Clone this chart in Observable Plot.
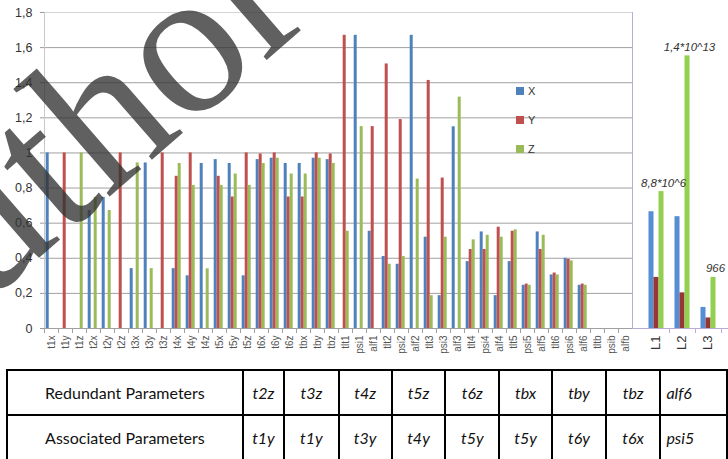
<!DOCTYPE html>
<html><head><meta charset="utf-8">
<script src="https://cdn.jsdelivr.net/npm/d3@7"></script>
<script src="https://cdn.jsdelivr.net/npm/@observablehq/plot@0.6"></script>
<style>
body{margin:0;background:#fff;}
#wrap{position:relative;width:728px;height:459px;overflow:hidden;font-family:"Liberation Sans",Arial,sans-serif;background:#fff;}
#main{position:absolute;left:0;top:0;}
#side{position:absolute;left:631px;top:0;}
#legend{position:absolute;left:516px;top:76px;font-size:11px;color:#333;}
.lg{height:29.3px;display:flex;align-items:center;}
.sw{width:8px;height:8px;margin-right:4px;}
#tbl{position:absolute;left:6px;top:369px;border-collapse:collapse;table-layout:fixed;font-family:Lato,"Open Sans",sans-serif;font-size:16px;color:#111;}
#tbl td{border:2.5px solid #000;height:43px;padding:0;text-align:center;white-space:nowrap;overflow:hidden;}
#tbl td.v{font-style:italic;}
#wm{position:absolute;left:0;top:0;pointer-events:none;}
</style>
</head><body>
<div id="wrap">
  <div id="main"></div>
  <div id="side"></div>
  <div id="legend"></div>
  <table id="tbl"></table>
  <svg id="wm" width="728" height="365"></svg>
</div>
<script>
const categories = ["t1x","t1y","t1z","t2x","t2y","t2z","t3x","t3y","t3z","t4x","t4y","t4z","t5x","t5y","t5z","t6x","t6y","t6z","tbx","tby","tbz","tlt1","psi1","alf1","tlt2","psi2","alf2","tlt3","psi3","alf3","tlt4","psi4","alf4","tlt5","psi5","alf5","tlt6","psi6","alf6","tltb","psib","alfb"];
const xValues = [1,0,0,0.672,0.747,0,0.341,0.943,0,0.341,0.30,0.94,0.962,0.94,0.30,0.962,0.97,0.94,0.94,0.97,0.962,0,1.67,0.554,0.41,0.366,1.67,0.52,0.187,1.149,0.381,0.55,0.187,0.381,0.246,0.55,0.305,0.40,0.246,0,0,0];
const yValues = [0,1,0,0,0,1,0,0,1,0.867,1,0,0.867,0.749,1,0.994,1,0.749,0.749,1,0.994,1.67,0,1.15,1.507,1.19,0,1.413,0.857,0,0.45,0.45,0.577,0.554,0.253,0.45,0.316,0.394,0.253,0,0,0];
const zValues = [0,0,1,0.747,0.672,0,0.943,0.341,0,0.94,0.815,0.34,0.815,0.88,0.815,0.94,0.97,0.88,0.88,0.97,0.94,0.554,1.15,0,0.366,0.41,0.851,0.187,0.52,1.318,0.505,0.531,0.52,0.562,0.246,0.531,0.305,0.385,0.246,0,0,0];
const yTicks = [0,0.2,0.4,0.6,0.8,1,1.2,1.4,1.6,1.8];

const lCategories = ["L1","L2","L3"];
const lX = [0.665,0.637,0.12];
const lY = [0.291,0.203,0.06];
const lZ = [0.78,1.553,0.291];
const lLabels = ["8,8*10^6","1,4*10^13","966"];

const seriesNames = ["X","Y","Z"];
const mainColors = ["#4F81BD","#C0504D","#9BBB59"];
const sideColors = ["#558ED5","#953735","#92D050"];

const redundant = ["t2z","t3z","t4z","t5z","t6z","tbx","tby","tbz","alf6"];
const associated = ["t1y","t1y","t3y","t4y","t5y","t5y","t6y","t6x","psi5"];

const rows = categories.map((c,i)=>({cat:c, X:xValues[i], Y:yValues[i], Z:zValues[i]}));
const fmt = d => String(d).replace(".", ",");

const main = Plot.plot({
  width: 632, height: 360,
  marginLeft: 44, marginRight: 0, marginTop: 12, marginBottom: 32,
  x: {domain: categories, padding: 0, label: null},
  y: {domain: [0, 1.8], label: null},
  style: {fontFamily: "Liberation Sans, Arial, sans-serif", background: "transparent", overflow: "visible"},
  marks: [
    Plot.gridY(yTicks.slice(1, -1), {stroke: "#a0a0a0", strokeOpacity: 1}),
    Plot.gridY(yTicks.slice(-1), {stroke: "#d4d4d4", strokeOpacity: 1}),
    Plot.frame({anchor: "left", stroke: "#c8c8c8"}),
    Plot.axisY({ticks: yTicks, tickFormat: fmt, tickSize: 4, tickPadding: 8, fontSize: 12.5, fill: "#333", stroke: "#999", label: null}),
    Plot.barY(rows, {x: "cat", y: "X", fill: mainColors[0], insetLeft: 1.7, insetRight: 9.3}),
    Plot.barY(rows, {x: "cat", y: "Y", fill: mainColors[1], insetLeft: 4.7, insetRight: 6.3}),
    Plot.barY(rows, {x: "cat", y: "Z", fill: mainColors[2], insetLeft: 7.7, insetRight: 3.3}),
    Plot.ruleY([0], {stroke: "#a0a0a0"}),
    Plot.axisX({tickFormat: () => "", tickSize: 5, dx: -7, stroke: "#a0a0a0", label: null}),
    Plot.axisX({tickSize: 0, tickRotate: -90, tickPadding: 7, fontSize: 10, fill: "#555", label: null})
  ]
});
document.getElementById("main").appendChild(main);

const lRows = lCategories.map((c,i)=>({cat:c, X:lX[i], Y:lY[i], Z:lZ[i], label:lLabels[i]}));
const purple = "#b9acd9";
const side = Plot.plot({
  width: 97, height: 360,
  marginLeft: 1, marginRight: 0, marginTop: 12, marginBottom: 32,
  x: {domain: lCategories, padding: 0, range: [11.5, 89.5], label: null},
  y: {domain: [0, 1.8], axis: null},
  style: {fontFamily: "Liberation Sans, Arial, sans-serif", background: "transparent", overflow: "visible"},
  marks: [
    Plot.frame({anchor: "left", stroke: purple}),
    Plot.barY(lRows, {x: "cat", y: "X", fill: sideColors[0], insetLeft: 5.5, insetRight: 15.5}),
    Plot.barY(lRows, {x: "cat", y: "Y", fill: sideColors[1], insetLeft: 10.5, insetRight: 10.5}),
    Plot.barY(lRows, {x: "cat", y: "Z", fill: sideColors[2], insetLeft: 15.5, insetRight: 5.5}),
    Plot.ruleY([0], {stroke: purple}),
    Plot.axisX({tickFormat: () => "", tickSize: 5, dx: 13, stroke: purple, label: null}),
    Plot.axisX({tickSize: 0, tickRotate: -90, tickPadding: 7, fontSize: 13, fill: "#333", dx: -1, label: null}),
    Plot.text(lRows, {x: "cat", y: "Z", text: "label", dx: 7, dy: -5, lineAnchor: "bottom", fontStyle: "italic", fontSize: 11.5, fill: "#333"})
  ]
});
document.getElementById("side").appendChild(side);

// legend
const lg = document.getElementById("legend");
seriesNames.forEach((s,i)=>{
  const d = document.createElement("div"); d.className = "lg";
  d.innerHTML = `<span class="sw" style="background:${mainColors[i]}"></span><span>${s}</span>`;
  lg.appendChild(d);
});

// table
const colWidths = [244, 43, 58, 56, 57, 57, 56, 57, 58, 70];
const tbl = document.getElementById("tbl");
const cg = document.createElement("colgroup");
colWidths.forEach(w=>{const c=document.createElement("col"); c.style.width=w+"px"; cg.appendChild(c);});
tbl.appendChild(cg);
[["Redundant Parameters", redundant], ["Associated Parameters", associated]].forEach(([head, vals])=>{
  const tr = document.createElement("tr");
  const th = document.createElement("td"); th.textContent = head; tr.appendChild(th);
  vals.forEach((v,i)=>{const td=document.createElement("td"); td.className="v"; td.textContent=v;
    if (i === vals.length-1) {td.style.textAlign="left"; td.style.paddingLeft="5px";}
    tr.appendChild(td);});
  tbl.appendChild(tr);
});

// watermark
const wm = d3.select("#wm");
wm.append("text").attr("x", -129).attr("y", 404)
  .attr("transform", "rotate(-41 -129 404)")
  .attr("font-family", "Liberation Serif, serif").attr("font-size", 208)
  .attr("fill", "#333").attr("fill-opacity", 0.78).text("Author");
</script>
</body></html>
